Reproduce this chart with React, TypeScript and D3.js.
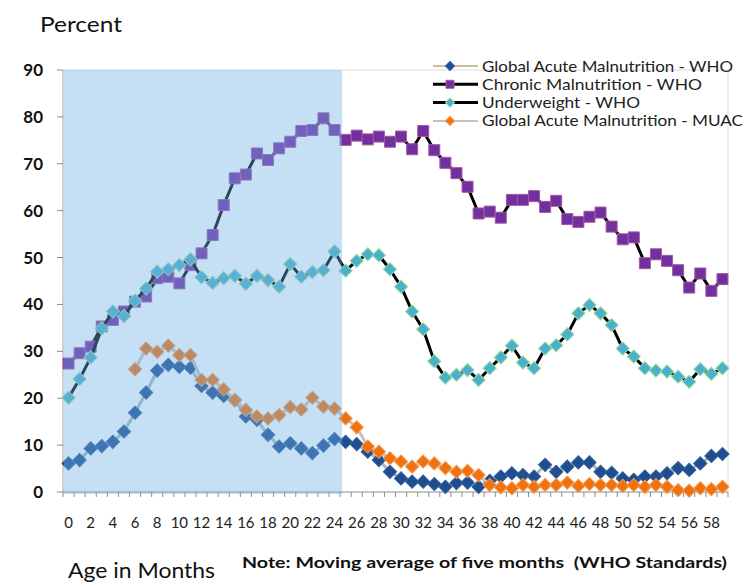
import React from "react";
import * as d3 from "d3";

const months: number[] = d3.range(0, 60);
const xTickLabels: number[] = d3.range(0, 59, 2);
const yTicks: number[] = [0, 10, 20, 30, 40, 50, 60, 70, 80, 90];

const gamWho: (number | null)[] = [6.1, 6.8, 9.3, 9.8, 10.7, 12.9, 16.9, 21.2, 25.9, 27.1, 26.7, 26.5, 22.6, 21.2, 20.5, 19.6, 16.1, 15.4, 12.2, 9.7, 10.4, 9.3, 8.3, 9.9, 11.3, 10.7, 10.2, 8.6, 6.8, 4.3, 2.9, 2.2, 2.2, 1.7, 1.1, 1.9, 2.0, 1.1, 2.4, 3.3, 4.0, 3.6, 3.3, 5.8, 4.3, 5.4, 6.3, 6.3, 4.3, 4.1, 2.9, 2.6, 3.3, 3.3, 4.0, 5.1, 4.7, 6.1, 7.7, 8.1];
const chronicWho: (number | null)[] = [27.4, 29.6, 31.0, 35.3, 36.7, 38.5, 40.6, 41.7, 45.6, 45.9, 44.5, 48.4, 50.9, 54.8, 61.2, 66.9, 67.7, 72.2, 70.8, 73.3, 74.7, 77.0, 77.2, 79.7, 77.2, 75.1, 76.0, 75.2, 75.8, 74.7, 75.8, 73.1, 77.0, 72.9, 70.2, 68.0, 65.1, 59.4, 59.8, 58.5, 62.3, 62.3, 63.1, 60.8, 62.1, 58.2, 57.6, 58.7, 59.6, 56.6, 53.9, 54.3, 48.8, 50.7, 49.3, 47.3, 43.6, 46.6, 42.9, 45.4];
const underweightWho: (number | null)[] = [20.1, 24.1, 28.7, 34.9, 38.5, 37.5, 40.8, 43.4, 47.0, 47.5, 48.4, 49.6, 45.8, 44.6, 45.6, 46.1, 44.4, 46.1, 45.2, 43.8, 48.6, 45.9, 46.9, 47.3, 51.3, 47.2, 49.3, 50.7, 50.5, 47.5, 43.8, 38.5, 34.7, 27.9, 24.4, 25.0, 26.0, 23.9, 26.4, 28.7, 31.2, 27.6, 26.4, 30.6, 31.3, 33.6, 38.1, 39.9, 38.1, 35.6, 30.6, 28.9, 26.4, 25.9, 25.7, 24.6, 23.5, 26.2, 25.2, 26.4];
const gamMuac: (number | null)[] = [null, null, null, null, null, null, 26.2, 30.6, 29.9, 31.2, 29.2, 29.2, 23.9, 23.9, 21.9, 19.6, 17.5, 16.1, 15.7, 16.4, 18.1, 17.6, 20.1, 18.2, 17.8, 15.7, 13.8, 9.7, 8.6, 7.2, 6.5, 5.4, 6.5, 6.1, 5.1, 4.3, 4.5, 3.6, 1.5, 1.0, 0.8, 1.5, 1.1, 1.5, 1.5, 2.0, 1.3, 1.7, 1.5, 1.5, 1.3, 1.5, 1.1, 1.5, 1.1, 0.4, 0.3, 0.8, 0.6, 1.1];

const seriesNames: string[] = [
  "Global Acute Malnutrition - WHO",
  "Chronic Malnutrition - WHO",
  "Underweight - WHO",
  "Global Acute Malnutrition - MUAC",
];
const shadedLastMonth = 24;

type Style = { line: string; lineW: number; fill: string; stroke: string; shape: "diamond" | "square"; legendLine: string; legendW: number };
const styles: Style[] = [
  { line: "#A9B8B2", lineW: 3, fill: "#1F4E8E", stroke: "#2E5E9E", shape: "diamond", legendLine: "#C9C09A", legendW: 251 },
  { line: "#000000", lineW: 3, fill: "#7030A0", stroke: "#A9559F", shape: "square", legendLine: "#000000", legendW: 220 },
  { line: "#000000", lineW: 3, fill: "#4BB0CC", stroke: "#9BDDA0", shape: "diamond", legendLine: "#000000", legendW: 158 },
  { line: "#C3C3C3", lineW: 3, fill: "#F0720F", stroke: "#F59A50", shape: "diamond", legendLine: "#C3C3C3", legendW: 261 },
];
const allSeries = [gamWho, chronicWho, underweightWho, gamMuac];

const W = 750, H = 585;
const L = 63, R = 728, T = 70, B = 492;

export default function App() {
  const x = d3.scaleBand<number>().domain(months).range([L, R]).padding(0);
  const y = d3.scaleLinear().domain([0, 90]).range([B, T]);
  const cx = (m: number) => (x(m) as number) + x.bandwidth() / 2;

  const sq = d3.symbol().type(d3.symbolSquare);
  const squarePath = sq.size(121)() as string;
  const diamondPath = sq.size(88)() as string;
  const legSquare = sq.size(64)() as string;
  const legDiamond = sq.size(42)() as string;

  const line = d3
    .line<number | null>()
    .defined((d) => d !== null)
    .x((_, i) => cx(i))
    .y((d) => y(d as number));

  const font = "Lato, 'DejaVu Sans', sans-serif";

  return (
    <svg width={W} height={H} style={{ position: "absolute", left: 0, top: 0, background: "#fff" }}>
      <rect x={0} y={0} width={W} height={H} fill="#fff" />
      {/* plot border */}
      <line x1={L} x2={R} y1={T} y2={T} stroke="#DCDCDC" strokeWidth={1} />
      <line x1={R} x2={R} y1={T} y2={B} stroke="#DCDCDC" strokeWidth={1} />
      {/* y axis */}
      <line x1={L} x2={L} y1={T} y2={B} stroke="#A0A0A0" strokeWidth={1} />
      {yTicks.map((t) => (
        <g key={t}>
          <line x1={L - 6} x2={L} y1={y(t)} y2={y(t)} stroke="#8C8C8C" />
          <text x={43} y={y(t) + 6} textAnchor="end" fontFamily={font} fontWeight="bold" fontSize={17} fill="#111">
            {t}
          </text>
        </g>
      ))}
      {/* x axis */}
      <line x1={L} x2={R} y1={B} y2={B} stroke="#8C8C8C" strokeWidth={1} />
      {months.map((m) => (
        <line key={m} x1={x(m) as number} x2={x(m) as number} y1={B} y2={B + 5} stroke="#8C8C8C" />
      ))}
      <line x1={R} x2={R} y1={B} y2={B + 5} stroke="#8C8C8C" />
      {xTickLabels.map((m) => (
        <text key={m} x={cx(m)} y={528} textAnchor="middle" fontFamily={font} fontSize={15} fill="#222">
          {m}
        </text>
      ))}

      {/* series */}
      {allSeries.map((data, si) => {
        const st = styles[si];
        return (
          <g key={si}>
            <path d={line(data) as string} fill="none" stroke={st.line} strokeWidth={st.lineW} strokeLinejoin="round" />
            {data.map((v, i) =>
              v === null ? null : (
                <path
                  key={i}
                  d={st.shape === "square" ? squarePath : diamondPath}
                  transform={`translate(${cx(i)},${y(v)})${st.shape === "diamond" ? " rotate(45)" : ""}`}
                  fill={st.fill}
                  stroke={st.stroke}
                  strokeWidth={1}
                />
              )
            )}
          </g>
        );
      })}

      {/* shaded first 24 months, overlayed */}
      <rect
        x={L + 1}
        y={T}
        width={(x(shadedLastMonth) as number) + x.bandwidth() + 2 - (L + 1)}
        height={B - T + 2}
        fill="#6EAFE6"
        fillOpacity={0.4}
      />

      {/* legend */}
      {seriesNames.map((name, i) => {
        const st = styles[i];
        const ly = 66 + i * 18.3;
        return (
          <g key={name}>
            <line x1={433} x2={478} y1={ly} y2={ly} stroke={st.legendLine} strokeWidth={i === 1 || i === 2 ? 3 : 2} />
            <path
              d={st.shape === "square" ? legSquare : legDiamond}
              transform={`translate(450,${ly})${st.shape === "diamond" ? " rotate(45)" : ""}`}
              fill={st.fill}
              stroke={st.stroke}
              strokeWidth={1}
            />
            <text x={482} y={ly + 5.5} fontFamily={font} fontSize={16} fill="#222" textLength={st.legendW} lengthAdjust="spacingAndGlyphs">
              {name}
            </text>
          </g>
        );
      })}

      {/* titles */}
      <text x={40} y={32} fontFamily={font} fontSize={21} fill="#111" textLength={82} lengthAdjust="spacingAndGlyphs">
        Percent
      </text>
      <text x={68} y={578} fontFamily={font} fontSize={22} fill="#111" textLength={147} lengthAdjust="spacingAndGlyphs">
        Age in Months
      </text>
      <text x={242} y={568} fontFamily={font} fontSize={16} fontWeight="bold" fill="#111" textLength={485} lengthAdjust="spacingAndGlyphs">
        Note: Moving average of five months&#160;&#160;(WHO Standards)
      </text>
    </svg>
  );
}
